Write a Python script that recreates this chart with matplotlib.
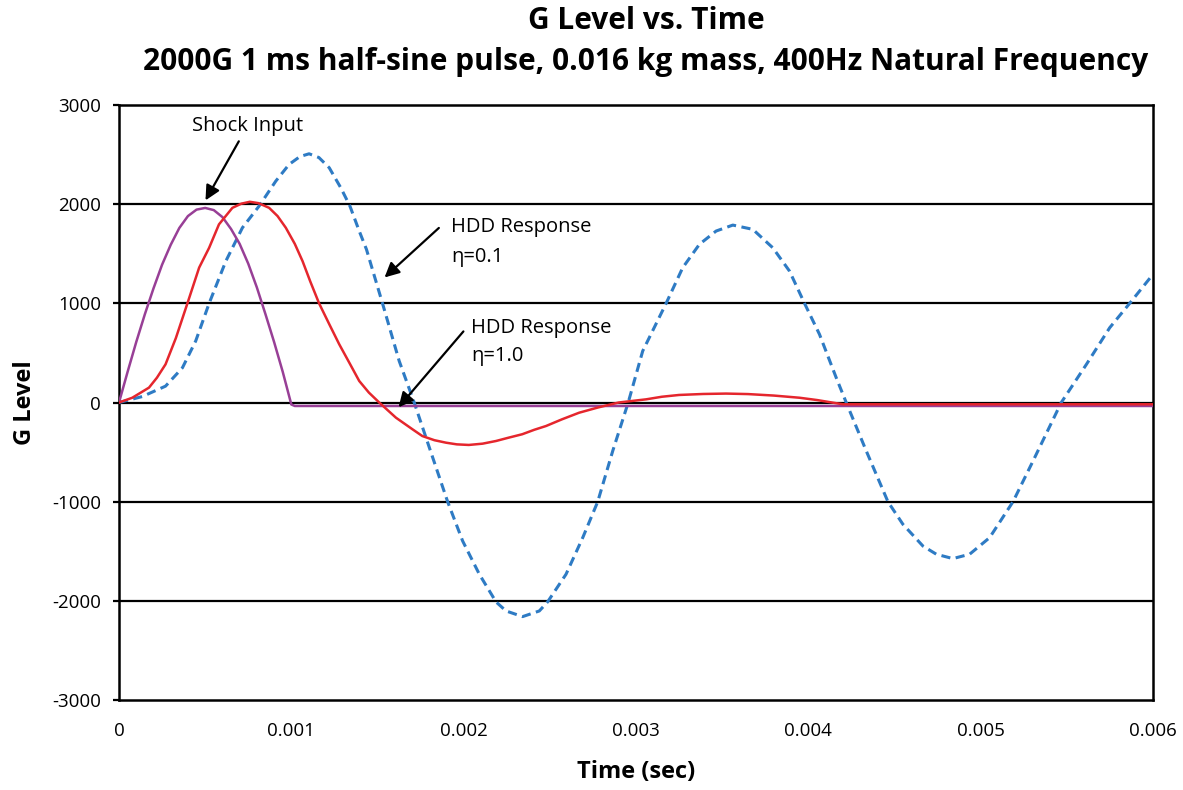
import numpy as np
import matplotlib
matplotlib.use('Agg')
from matplotlib import pyplot as plt

plt.rcParams['font.family'] = ['Open Sans', 'DejaVu Sans']
plt.rcParams['axes.unicode_minus'] = False

# time in ms, G level
t_shock = [0, 0.05, 0.1, 0.15, 0.2, 0.25, 0.3, 0.35, 0.4, 0.45, 0.5, 0.55,
           0.6, 0.65, 0.7, 0.75, 0.8, 0.85, 0.9, 0.95, 1.0, 1.02, 6.0]
g_shock = [0, 310, 610, 890, 1150, 1390, 1590, 1760, 1880, 1945, 1962, 1940,
           1870, 1750, 1600, 1400, 1160, 890, 610, 310, -20, -35, -35]

t_eta10 = [0, 0.077, 0.174, 0.22, 0.27, 0.33, 0.397, 0.465, 0.523, 0.58,
           0.658, 0.71, 0.759, 0.81, 0.871, 0.92, 0.968, 1.02, 1.065, 1.11,
           1.161, 1.22, 1.278, 1.34, 1.394, 1.45, 1.51, 1.607, 1.703, 1.76,
           1.83, 1.897, 1.96, 2.03, 2.11, 2.188, 2.26, 2.34, 2.41, 2.478,
           2.57, 2.67, 2.78, 2.9, 3.059, 3.15, 3.25, 3.39, 3.523, 3.65,
           3.8, 3.949, 4.05, 4.12, 4.2, 6.0]
g_eta10 = [0, 48, 150, 250, 385, 650, 1000, 1360, 1560, 1796,
           1963, 2005, 2024, 2010, 1963, 1880, 1762, 1600, 1426, 1220,
           1000, 790, 587, 390, 217, 100, 0, -153, -270, -338,
           -380, -405, -422, -428, -415, -388, -355, -320, -275, -237,
           -170, -103, -50, 0, 32, 58, 76, 86, 90, 85,
           70, 48, 25, 5, -18, -18]

t_eta01 = [0, 0.135, 0.27, 0.368, 0.445, 0.523, 0.62, 0.716, 0.813, 0.91,
           0.987, 1.05, 1.103, 1.16, 1.22, 1.287, 1.34, 1.394, 1.436, 1.529,
           1.626, 1.713, 1.8, 1.907, 1.994, 2.091, 2.188, 2.246, 2.342,
           2.439, 2.487, 2.594, 2.691, 2.778, 2.865, 2.955, 3.039, 3.175,
           3.271, 3.368, 3.465, 3.562, 3.678, 3.794, 3.891, 3.978, 4.065,
           4.162, 4.22, 4.336, 4.462, 4.549, 4.665, 4.743, 4.839, 4.936,
           5.052, 5.188, 5.304, 5.468, 5.614, 5.749, 5.865, 6.0]
g_eta01 = [0, 60, 165, 350, 620, 1000, 1426, 1762, 1981, 2233,
           2401, 2480, 2508, 2470, 2367, 2165, 1981, 1729, 1544, 1000,
           418, 0, -450, -1000, -1396, -1732, -2011, -2102, -2159,
           -2102, -2011, -1732, -1363, -1000, -489, 0, 519, 1000,
           1359, 1595, 1729, 1789, 1746, 1560, 1325, 1000, 687,
           250, 0, -487, -1000, -1228, -1447, -1530, -1574, -1530,
           -1363, -1000, -590, 0, 385, 754, 1000, 1292]

yticks = [-3000, -2000, -1000, 0, 1000, 2000, 3000]
xticks = [0, 0.001, 0.002, 0.003, 0.004, 0.005, 0.006]
xticklabels = ['0', '0.001', '0.002', '0.003', '0.004', '0.005', '0.006']

fig = plt.figure(figsize=(11.83, 7.90), dpi=100)
ax = fig.add_axes([0.1006, 0.1139, 0.874, 0.7532])

for g in [-2000, -1000, 0, 1000, 2000]:
    ax.axhline(g, color='black', lw=1.6, zorder=1)

ax.plot(np.array(t_eta01) * 1e-3, g_eta01, color='#2e7bc4', lw=2.2,
        dashes=(3.0, 1.8), zorder=3)
ax.plot(np.array(t_eta10) * 1e-3, g_eta10, color='#e5262d', lw=1.8, zorder=4)
ax.plot(np.array(t_shock) * 1e-3, g_shock, color='#983f96', lw=1.8, zorder=3)

ax.set_xlim(0, 0.006)
ax.set_ylim(-3000, 3000)
ax.set_yticks(yticks)
ax.set_xticks(xticks)
ax.set_xticklabels(xticklabels)
ax.tick_params(axis='y', length=4, width=1.6, pad=9, labelsize=13.5)
ax.tick_params(axis='x', length=0, pad=16, labelsize=13.5)
for s in ax.spines.values():
    s.set_linewidth(1.8)

ax.set_xlabel('Time (sec)', fontsize=17, fontweight='bold', labelpad=14)
ax.set_ylabel('G Level', fontsize=17, fontweight='bold', labelpad=11)
fig.suptitle('G Level vs. Time\n2000G 1 ms half-sine pulse, 0.016 kg mass, 400Hz Natural Frequency',
             fontsize=21.5, fontweight='bold', y=0.992, x=0.546, linespacing=1.45)

arrow = dict(arrowstyle='-|>', color='black', lw=1.6, mutation_scale=22)
ax.annotate('Shock Input', xy=(0.000494, 2014), xytext=(0.000745, 2787),
            ha='center', va='center', fontsize=14.5, arrowprops=arrow)
ax.annotate('', xy=(0.001529, 1242), xytext=(0.001868, 1779), arrowprops=arrow)
ax.text(0.001926, 1769, 'HDD Response', fontsize=14.5, va='center')
ax.text(0.001926, 1466, 'η=0.1', fontsize=14.5, va='center')
ax.annotate('', xy=(0.001612, -69), xytext=(0.002009, 738), arrowprops=arrow)
ax.text(0.002042, 754, 'HDD Response', fontsize=14.5, va='center')
ax.text(0.002042, 469, 'η=1.0', fontsize=14.5, va='center')

fig.savefig('out.png', dpi=100)
